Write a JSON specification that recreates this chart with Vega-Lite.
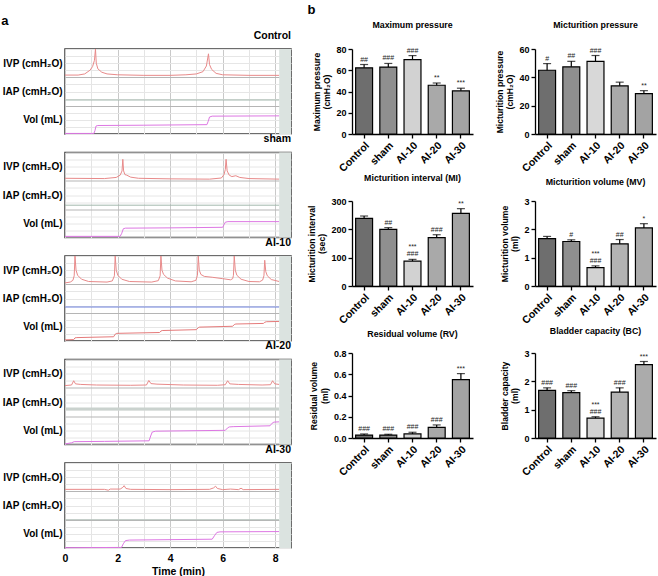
{
"$schema":"https://vega.github.io/schema/vega-lite/v6.json",
"padding":{"left":1,"top":3,"right":3,"bottom":2},
"config":{
 "font":"Liberation Sans",
 "view":{"stroke":null},
 "axis":{"domainColor":"#000","domainWidth":1.3,"tickColor":"#000","tickWidth":1.3,"tickSize":4,"labelColor":"#000","labelFontSize":9,"labelFontWeight":"bold","titleColor":"#000","titleFontSize":8.6,"titleFontWeight":"bold","grid":false,"labelPadding":2,"titlePadding":4,"labelOverlap":false},
 "title":{"fontSize":8.8,"fontWeight":"bold","color":"#000","offset":10}
},
"datasets":{
"traces":[
{"g":"Control","ch":"IVP","t":0,"v":2.08},{"g":"Control","ch":"IVP","t":0.5,"v":2.08},{"g":"Control","ch":"IVP","t":0.75,"v":2.12},{"g":"Control","ch":"IVP","t":0.95,"v":2.25},{"g":"Control","ch":"IVP","t":1.05,"v":2.38},{"g":"Control","ch":"IVP","t":1.12,"v":2.6},{"g":"Control","ch":"IVP","t":1.16,"v":3.0},{"g":"Control","ch":"IVP","t":1.19,"v":2.5},{"g":"Control","ch":"IVP","t":1.25,"v":2.3},{"g":"Control","ch":"IVP","t":1.4,"v":2.18},{"g":"Control","ch":"IVP","t":1.6,"v":2.12},{"g":"Control","ch":"IVP","t":2,"v":2.09},{"g":"Control","ch":"IVP","t":3,"v":2.07},{"g":"Control","ch":"IVP","t":4,"v":2.07},{"g":"Control","ch":"IVP","t":4.6,"v":2.09},{"g":"Control","ch":"IVP","t":5.0,"v":2.12},{"g":"Control","ch":"IVP","t":5.25,"v":2.2},{"g":"Control","ch":"IVP","t":5.38,"v":2.4},{"g":"Control","ch":"IVP","t":5.46,"v":2.83},{"g":"Control","ch":"IVP","t":5.5,"v":2.45},{"g":"Control","ch":"IVP","t":5.58,"v":2.28},{"g":"Control","ch":"IVP","t":5.75,"v":2.14},{"g":"Control","ch":"IVP","t":6,"v":2.09},{"g":"Control","ch":"IVP","t":7,"v":2.07},{"g":"Control","ch":"IVP","t":8.15,"v":2.07},
{"g":"Control","ch":"IAP","t":0,"v":1.2},{"g":"Control","ch":"IAP","t":8.15,"v":1.2},
{"g":"Control","ch":"Vol","t":0,"v":0.02},{"g":"Control","ch":"Vol","t":1.1,"v":0.02},{"g":"Control","ch":"Vol","t":1.14,"v":0.12},{"g":"Control","ch":"Vol","t":1.18,"v":0.28},{"g":"Control","ch":"Vol","t":1.25,"v":0.3},{"g":"Control","ch":"Vol","t":3,"v":0.31},{"g":"Control","ch":"Vol","t":5.4,"v":0.33},{"g":"Control","ch":"Vol","t":5.45,"v":0.45},{"g":"Control","ch":"Vol","t":5.5,"v":0.6},{"g":"Control","ch":"Vol","t":5.6,"v":0.63},{"g":"Control","ch":"Vol","t":8.15,"v":0.64},
{"g":"sham","ch":"IVP","t":0,"v":2.09},{"g":"sham","ch":"IVP","t":1.5,"v":2.08},{"g":"sham","ch":"IVP","t":1.95,"v":2.12},{"g":"sham","ch":"IVP","t":2.1,"v":2.2},{"g":"sham","ch":"IVP","t":2.17,"v":2.35},{"g":"sham","ch":"IVP","t":2.2,"v":2.76},{"g":"sham","ch":"IVP","t":2.23,"v":2.35},{"g":"sham","ch":"IVP","t":2.28,"v":2.22},{"g":"sham","ch":"IVP","t":2.35,"v":2.2},{"g":"sham","ch":"IVP","t":2.5,"v":2.13},{"g":"sham","ch":"IVP","t":2.8,"v":2.09},{"g":"sham","ch":"IVP","t":4,"v":2.07},{"g":"sham","ch":"IVP","t":5.5,"v":2.06},{"g":"sham","ch":"IVP","t":5.95,"v":2.1},{"g":"sham","ch":"IVP","t":6.05,"v":2.22},{"g":"sham","ch":"IVP","t":6.1,"v":2.4},{"g":"sham","ch":"IVP","t":6.13,"v":2.76},{"g":"sham","ch":"IVP","t":6.17,"v":2.35},{"g":"sham","ch":"IVP","t":6.25,"v":2.2},{"g":"sham","ch":"IVP","t":6.35,"v":2.15},{"g":"sham","ch":"IVP","t":6.5,"v":2.18},{"g":"sham","ch":"IVP","t":6.65,"v":2.12},{"g":"sham","ch":"IVP","t":7,"v":2.08},{"g":"sham","ch":"IVP","t":8.15,"v":2.06},
{"g":"sham","ch":"IAP","t":0,"v":1.14},{"g":"sham","ch":"IAP","t":8.15,"v":1.14},
{"g":"sham","ch":"Vol","t":0,"v":0.04},{"g":"sham","ch":"Vol","t":2.1,"v":0.04},{"g":"sham","ch":"Vol","t":2.16,"v":0.15},{"g":"sham","ch":"Vol","t":2.22,"v":0.31},{"g":"sham","ch":"Vol","t":2.3,"v":0.33},{"g":"sham","ch":"Vol","t":4,"v":0.34},{"g":"sham","ch":"Vol","t":6.0,"v":0.36},{"g":"sham","ch":"Vol","t":6.05,"v":0.45},{"g":"sham","ch":"Vol","t":6.1,"v":0.54},{"g":"sham","ch":"Vol","t":6.2,"v":0.56},{"g":"sham","ch":"Vol","t":8.15,"v":0.56},
{"g":"AI-10","ch":"IVP","t":0,"v":2.05},{"g":"AI-10","ch":"IVP","t":0.2,"v":2.08},{"g":"AI-10","ch":"IVP","t":0.3,"v":2.14},{"g":"AI-10","ch":"IVP","t":0.35,"v":2.3},{"g":"AI-10","ch":"IVP","t":0.38,"v":3.0},{"g":"AI-10","ch":"IVP","t":0.42,"v":2.5},{"g":"AI-10","ch":"IVP","t":0.48,"v":2.32},{"g":"AI-10","ch":"IVP","t":0.63,"v":2.18},{"g":"AI-10","ch":"IVP","t":0.9,"v":2.1},{"g":"AI-10","ch":"IVP","t":1.6,"v":2.08},{"g":"AI-10","ch":"IVP","t":1.8,"v":2.12},
{"g":"AI-10","ch":"IVP","t":1.88,"v":2.3},{"g":"AI-10","ch":"IVP","t":1.91,"v":3.0},{"g":"AI-10","ch":"IVP","t":1.95,"v":2.5},{"g":"AI-10","ch":"IVP","t":2.01,"v":2.32},{"g":"AI-10","ch":"IVP","t":2.16,"v":2.18},{"g":"AI-10","ch":"IVP","t":2.45,"v":2.1},{"g":"AI-10","ch":"IVP","t":3.3,"v":2.08},{"g":"AI-10","ch":"IVP","t":3.55,"v":2.13},
{"g":"AI-10","ch":"IVP","t":3.62,"v":2.3},{"g":"AI-10","ch":"IVP","t":3.65,"v":3.0},{"g":"AI-10","ch":"IVP","t":3.69,"v":2.5},{"g":"AI-10","ch":"IVP","t":3.75,"v":2.35},{"g":"AI-10","ch":"IVP","t":3.9,"v":2.22},{"g":"AI-10","ch":"IVP","t":4.2,"v":2.12},{"g":"AI-10","ch":"IVP","t":4.8,"v":2.09},{"g":"AI-10","ch":"IVP","t":4.98,"v":2.14},
{"g":"AI-10","ch":"IVP","t":5.04,"v":2.32},{"g":"AI-10","ch":"IVP","t":5.07,"v":3.0},{"g":"AI-10","ch":"IVP","t":5.11,"v":2.5},{"g":"AI-10","ch":"IVP","t":5.17,"v":2.35},{"g":"AI-10","ch":"IVP","t":5.3,"v":2.28},{"g":"AI-10","ch":"IVP","t":5.6,"v":2.25},{"g":"AI-10","ch":"IVP","t":6.0,"v":2.2},{"g":"AI-10","ch":"IVP","t":6.3,"v":2.16},{"g":"AI-10","ch":"IVP","t":6.38,"v":2.2},
{"g":"AI-10","ch":"IVP","t":6.41,"v":2.32},{"g":"AI-10","ch":"IVP","t":6.44,"v":3.0},{"g":"AI-10","ch":"IVP","t":6.48,"v":2.5},{"g":"AI-10","ch":"IVP","t":6.54,"v":2.32},{"g":"AI-10","ch":"IVP","t":6.7,"v":2.18},{"g":"AI-10","ch":"IVP","t":7.0,"v":2.1},{"g":"AI-10","ch":"IVP","t":7.4,"v":2.09},{"g":"AI-10","ch":"IVP","t":7.52,"v":2.15},
{"g":"AI-10","ch":"IVP","t":7.57,"v":2.3},{"g":"AI-10","ch":"IVP","t":7.6,"v":2.85},{"g":"AI-10","ch":"IVP","t":7.64,"v":2.45},{"g":"AI-10","ch":"IVP","t":7.7,"v":2.3},{"g":"AI-10","ch":"IVP","t":7.85,"v":2.17},{"g":"AI-10","ch":"IVP","t":8.15,"v":2.1},
{"g":"AI-10","ch":"IAP","t":0,"v":1.2},{"g":"AI-10","ch":"IAP","t":8.15,"v":1.2},
{"g":"AI-10","ch":"Vol","t":0,"v":0.04},{"g":"AI-10","ch":"Vol","t":0.33,"v":0.05},{"g":"AI-10","ch":"Vol","t":0.38,"v":0.11},{"g":"AI-10","ch":"Vol","t":0.45,"v":0.12},{"g":"AI-10","ch":"Vol","t":1.85,"v":0.15},{"g":"AI-10","ch":"Vol","t":1.91,"v":0.24},{"g":"AI-10","ch":"Vol","t":1.97,"v":0.27},{"g":"AI-10","ch":"Vol","t":3.6,"v":0.3},{"g":"AI-10","ch":"Vol","t":3.65,"v":0.35},{"g":"AI-10","ch":"Vol","t":3.7,"v":0.37},{"g":"AI-10","ch":"Vol","t":5.0,"v":0.4},{"g":"AI-10","ch":"Vol","t":5.07,"v":0.47},{"g":"AI-10","ch":"Vol","t":5.12,"v":0.49},{"g":"AI-10","ch":"Vol","t":6.38,"v":0.52},{"g":"AI-10","ch":"Vol","t":6.44,"v":0.58},{"g":"AI-10","ch":"Vol","t":6.5,"v":0.6},{"g":"AI-10","ch":"Vol","t":7.55,"v":0.62},{"g":"AI-10","ch":"Vol","t":7.6,"v":0.66},{"g":"AI-10","ch":"Vol","t":7.66,"v":0.68},{"g":"AI-10","ch":"Vol","t":8.15,"v":0.69},
{"g":"AI-20","ch":"IVP","t":0,"v":2.08},{"g":"AI-20","ch":"IVP","t":0.25,"v":2.1},{"g":"AI-20","ch":"IVP","t":0.33,"v":2.25},{"g":"AI-20","ch":"IVP","t":0.4,"v":2.14},{"g":"AI-20","ch":"IVP","t":0.6,"v":2.12},{"g":"AI-20","ch":"IVP","t":1.2,"v":2.1},{"g":"AI-20","ch":"IVP","t":2.5,"v":2.09},{"g":"AI-20","ch":"IVP","t":3.1,"v":2.1},{"g":"AI-20","ch":"IVP","t":3.19,"v":2.26},{"g":"AI-20","ch":"IVP","t":3.27,"v":2.15},{"g":"AI-20","ch":"IVP","t":3.5,"v":2.13},{"g":"AI-20","ch":"IVP","t":4.5,"v":2.1},{"g":"AI-20","ch":"IVP","t":5.8,"v":2.09},{"g":"AI-20","ch":"IVP","t":6.1,"v":2.11},{"g":"AI-20","ch":"IVP","t":6.19,"v":2.25},{"g":"AI-20","ch":"IVP","t":6.27,"v":2.14},{"g":"AI-20","ch":"IVP","t":6.6,"v":2.12},{"g":"AI-20","ch":"IVP","t":7.5,"v":2.1},{"g":"AI-20","ch":"IVP","t":7.82,"v":2.11},{"g":"AI-20","ch":"IVP","t":7.9,"v":2.25},{"g":"AI-20","ch":"IVP","t":7.98,"v":2.14},{"g":"AI-20","ch":"IVP","t":8.15,"v":2.12},
{"g":"AI-20","ch":"IAP","t":0,"v":1.25},{"g":"AI-20","ch":"IAP","t":8.15,"v":1.25},
{"g":"AI-20","ch":"Vol","t":0,"v":0.02},{"g":"AI-20","ch":"Vol","t":0.25,"v":0.06},{"g":"AI-20","ch":"Vol","t":0.35,"v":0.1},{"g":"AI-20","ch":"Vol","t":1.5,"v":0.11},{"g":"AI-20","ch":"Vol","t":3.2,"v":0.13},{"g":"AI-20","ch":"Vol","t":3.26,"v":0.3},{"g":"AI-20","ch":"Vol","t":3.32,"v":0.44},{"g":"AI-20","ch":"Vol","t":3.45,"v":0.47},{"g":"AI-20","ch":"Vol","t":6.1,"v":0.5},{"g":"AI-20","ch":"Vol","t":6.18,"v":0.58},{"g":"AI-20","ch":"Vol","t":6.25,"v":0.62},{"g":"AI-20","ch":"Vol","t":6.4,"v":0.63},{"g":"AI-20","ch":"Vol","t":7.8,"v":0.66},{"g":"AI-20","ch":"Vol","t":7.88,"v":0.75},{"g":"AI-20","ch":"Vol","t":7.95,"v":0.79},{"g":"AI-20","ch":"Vol","t":8.15,"v":0.8},
{"g":"AI-30","ch":"IVP","t":0,"v":2.07},{"g":"AI-30","ch":"IVP","t":1.5,"v":2.07},{"g":"AI-30","ch":"IVP","t":1.65,"v":2.04},{"g":"AI-30","ch":"IVP","t":1.72,"v":2.08},{"g":"AI-30","ch":"IVP","t":2.1,"v":2.08},{"g":"AI-30","ch":"IVP","t":2.2,"v":2.14},{"g":"AI-30","ch":"IVP","t":2.25,"v":2.2},{"g":"AI-30","ch":"IVP","t":2.32,"v":2.1},{"g":"AI-30","ch":"IVP","t":2.5,"v":2.07},{"g":"AI-30","ch":"IVP","t":4.0,"v":2.06},{"g":"AI-30","ch":"IVP","t":5.5,"v":2.07},{"g":"AI-30","ch":"IVP","t":5.65,"v":2.12},{"g":"AI-30","ch":"IVP","t":5.73,"v":2.18},{"g":"AI-30","ch":"IVP","t":5.8,"v":2.1},{"g":"AI-30","ch":"IVP","t":6.0,"v":2.06},{"g":"AI-30","ch":"IVP","t":6.3,"v":2.08},{"g":"AI-30","ch":"IVP","t":6.6,"v":2.06},{"g":"AI-30","ch":"IVP","t":6.7,"v":2.11},{"g":"AI-30","ch":"IVP","t":6.78,"v":2.06},{"g":"AI-30","ch":"IVP","t":8.15,"v":2.07},
{"g":"AI-30","ch":"IAP","t":0,"v":1.0},{"g":"AI-30","ch":"IAP","t":8.15,"v":1.0},
{"g":"AI-30","ch":"Vol","t":0,"v":0.01},{"g":"AI-30","ch":"Vol","t":2.15,"v":0.02},{"g":"AI-30","ch":"Vol","t":2.22,"v":0.15},{"g":"AI-30","ch":"Vol","t":2.3,"v":0.26},{"g":"AI-30","ch":"Vol","t":2.45,"v":0.28},{"g":"AI-30","ch":"Vol","t":5.6,"v":0.31},{"g":"AI-30","ch":"Vol","t":5.7,"v":0.45},{"g":"AI-30","ch":"Vol","t":5.78,"v":0.55},{"g":"AI-30","ch":"Vol","t":5.9,"v":0.57},{"g":"AI-30","ch":"Vol","t":8.15,"v":0.58}
],
"bars":[
{"c":"maxp","g":"Control","m":62.3,"hi":65.4,"a1":"","a2":"##"},{"c":"maxp","g":"sham","m":63,"hi":66.4,"a1":"","a2":"###"},{"c":"maxp","g":"AI-10","m":70,"hi":73.8,"a1":"","a2":"###"},{"c":"maxp","g":"AI-20","m":45.9,"hi":48,"a1":"","a2":"**"},{"c":"maxp","g":"AI-30","m":40.6,"hi":43.1,"a1":"","a2":"***"},
{"c":"mp","g":"Control","m":45,"hi":49.7,"a1":"","a2":"#"},{"c":"mp","g":"sham","m":47.4,"hi":51.3,"a1":"","a2":"##"},{"c":"mp","g":"AI-10","m":51.3,"hi":55.4,"a1":"","a2":"###"},{"c":"mp","g":"AI-20","m":34,"hi":36.6,"a1":"","a2":""},{"c":"mp","g":"AI-30","m":28.5,"hi":30.6,"a1":"","a2":"**"},
{"c":"mi","g":"Control","m":238.8,"hi":247,"a1":"","a2":""},{"c":"mi","g":"sham","m":200,"hi":206,"a1":"","a2":"##"},{"c":"mi","g":"AI-10","m":88,"hi":94,"a1":"***","a2":"###"},{"c":"mi","g":"AI-20","m":170.6,"hi":181,"a1":"","a2":"###"},{"c":"mi","g":"AI-30","m":256.5,"hi":273,"a1":"","a2":"**"},
{"c":"mv","g":"Control","m":1.67,"hi":1.75,"a1":"","a2":""},{"c":"mv","g":"sham","m":1.57,"hi":1.63,"a1":"","a2":"#"},{"c":"mv","g":"AI-10","m":0.65,"hi":0.71,"a1":"***","a2":"###"},{"c":"mv","g":"AI-20","m":1.49,"hi":1.64,"a1":"","a2":"##"},{"c":"mv","g":"AI-30","m":2.05,"hi":2.2,"a1":"","a2":"*"},
{"c":"rv","g":"Control","m":0.028,"hi":0.038,"a1":"","a2":"###"},{"c":"rv","g":"sham","m":0.028,"hi":0.035,"a1":"","a2":"###"},{"c":"rv","g":"AI-10","m":0.038,"hi":0.054,"a1":"","a2":"###"},{"c":"rv","g":"AI-20","m":0.1,"hi":0.123,"a1":"","a2":"###"},{"c":"rv","g":"AI-30","m":0.55,"hi":0.606,"a1":"","a2":"***"},
{"c":"bc","g":"Control","m":1.68,"hi":1.77,"a1":"","a2":"###"},{"c":"bc","g":"sham","m":1.6,"hi":1.67,"a1":"","a2":"###"},{"c":"bc","g":"AI-10","m":0.7,"hi":0.75,"a1":"***","a2":"###"},{"c":"bc","g":"AI-20","m":1.62,"hi":1.77,"a1":"","a2":"###"},{"c":"bc","g":"AI-30","m":2.59,"hi":2.7,"a1":"","a2":"***"}
]
},
"spacing":15,
"resolve":{"scale":{"color":"independent","fill":"independent","x":"independent","y":"independent"}},
"hconcat":[
{
 "title":{"text":"a","anchor":"start","fontSize":13,"offset":2},
 "bounds":"flush",
 "spacing":18.5,
 "resolve":{"scale":{"color":"independent","x":"independent","y":"independent"}},
 "vconcat":[
 {"width":226,"height":85,"view":{"stroke":"#3c3c3c","strokeWidth":1.5},
  "title":{"text":"Control","anchor":"end","fontSize":10.5,"offset":3,"frame":"group"},
  "layer":[
   {"data":{"name":"traces"},"transform":[{"filter":"datum.g==='Control'"}],"mark":{"type":"line","strokeWidth":1},
    "encoding":{
     "x":{"field":"t","type":"quantitative","scale":{"domain":[0,8.6],"nice":false,"zero":false},"axis":{"values":[0,1,2,3,4,5,6,7,8],"grid":true,"gridColor":{"condition":{"test":"datum.value%2===0","value":"#c9c9c9"},"value":"#e4e4e4"},"labels":false,"ticks":false,"domain":false,"title":null}},
     "y":{"field":"v","type":"quantitative","scale":{"domain":[0,3],"nice":false},"axis":{"values":[0,0.25,0.5,0.75,1,1.25,1.5,1.75,2,2.25,2.5,2.75,3],"title":null,"grid":true,"gridColor":{"condition":{"test":"datum.value===1||datum.value===2","value":"#b5b5b5"},"value":"#e6e6e6"},"ticks":false,"domain":false,"labelOverlap":false,"labelFlush":false,"labelFontSize":10,"labelPadding":3,"labelBaseline":"middle","labelExpr":"datum.value===2.5?'IVP (cmH₂O)':datum.value===1.5?'IAP (cmH₂O)':datum.value===0.5?'Vol (mL)':''"}},
     "color":{"field":"ch","type":"nominal","scale":{"domain":["IVP","IAP","Vol"],"range":["#e88a8a","#a3b8ad","#dd77e3"]},"legend":null}
    }},
   {"data":{"values":[{}]},"mark":{"type":"rect","color":"#dbe3e0"},"encoding":{
     "x":{"datum":8.15,"type":"quantitative","scale":{"domain":[0,8.6],"nice":false,"zero":false},"axis":{"values":[0,1,2,3,4,5,6,7,8],"grid":true,"gridColor":{"condition":{"test":"datum.value%2===0","value":"#c9c9c9"},"value":"#e4e4e4"},"labels":false,"ticks":false,"domain":false,"title":null}},"x2":{"datum":8.6},
     "y":{"datum":0,"type":"quantitative","scale":{"domain":[0,3],"nice":false},"axis":{"values":[0,0.25,0.5,0.75,1,1.25,1.5,1.75,2,2.25,2.5,2.75,3],"title":null,"grid":true,"gridColor":{"condition":{"test":"datum.value===1||datum.value===2","value":"#b5b5b5"},"value":"#e6e6e6"},"ticks":false,"domain":false,"labelOverlap":false,"labelFlush":false,"labelFontSize":10,"labelPadding":3,"labelBaseline":"middle","labelExpr":"datum.value===2.5?'IVP (cmH₂O)':datum.value===1.5?'IAP (cmH₂O)':datum.value===0.5?'Vol (mL)':''"}},"y2":{"datum":3}}}
  ]},
 {"width":226,"height":85,"view":{"stroke":"#3c3c3c","strokeWidth":1.5},
  "title":{"text":"sham","anchor":"end","fontSize":10.5,"offset":3,"frame":"group"},
  "layer":[
   {"data":{"name":"traces"},"transform":[{"filter":"datum.g==='sham'"}],"mark":{"type":"line","strokeWidth":1},
    "encoding":{
     "x":{"field":"t","type":"quantitative","scale":{"domain":[0,8.6],"nice":false,"zero":false},"axis":{"values":[0,1,2,3,4,5,6,7,8],"grid":true,"gridColor":{"condition":{"test":"datum.value%2===0","value":"#c9c9c9"},"value":"#e4e4e4"},"labels":false,"ticks":false,"domain":false,"title":null}},
     "y":{"field":"v","type":"quantitative","scale":{"domain":[0,3],"nice":false},"axis":{"values":[0,0.25,0.5,0.75,1,1.25,1.5,1.75,2,2.25,2.5,2.75,3],"title":null,"grid":true,"gridColor":{"condition":{"test":"datum.value===1||datum.value===2","value":"#b5b5b5"},"value":"#e6e6e6"},"ticks":false,"domain":false,"labelOverlap":false,"labelFlush":false,"labelFontSize":10,"labelPadding":3,"labelBaseline":"middle","labelExpr":"datum.value===2.5?'IVP (cmH₂O)':datum.value===1.5?'IAP (cmH₂O)':datum.value===0.5?'Vol (mL)':''"}},
     "color":{"field":"ch","type":"nominal","scale":{"domain":["IVP","IAP","Vol"],"range":["#e88a8a","#a3b8ad","#dd77e3"]},"legend":null}
    }},
   {"data":{"values":[{}]},"mark":{"type":"rect","color":"#dbe3e0"},"encoding":{
     "x":{"datum":8.15,"type":"quantitative","scale":{"domain":[0,8.6],"nice":false,"zero":false},"axis":{"values":[0,1,2,3,4,5,6,7,8],"grid":true,"gridColor":{"condition":{"test":"datum.value%2===0","value":"#c9c9c9"},"value":"#e4e4e4"},"labels":false,"ticks":false,"domain":false,"title":null}},"x2":{"datum":8.6},
     "y":{"datum":0,"type":"quantitative","scale":{"domain":[0,3],"nice":false},"axis":{"values":[0,0.25,0.5,0.75,1,1.25,1.5,1.75,2,2.25,2.5,2.75,3],"title":null,"grid":true,"gridColor":{"condition":{"test":"datum.value===1||datum.value===2","value":"#b5b5b5"},"value":"#e6e6e6"},"ticks":false,"domain":false,"labelOverlap":false,"labelFlush":false,"labelFontSize":10,"labelPadding":3,"labelBaseline":"middle","labelExpr":"datum.value===2.5?'IVP (cmH₂O)':datum.value===1.5?'IAP (cmH₂O)':datum.value===0.5?'Vol (mL)':''"}},"y2":{"datum":3}}}
  ]},
 {"width":226,"height":85,"view":{"stroke":"#3c3c3c","strokeWidth":1.5},
  "title":{"text":"AI-10","anchor":"end","fontSize":10.5,"offset":3,"frame":"group"},
  "layer":[
   {"data":{"name":"traces"},"transform":[{"filter":"datum.g==='AI-10'"}],"mark":{"type":"line","strokeWidth":1},
    "encoding":{
     "x":{"field":"t","type":"quantitative","scale":{"domain":[0,8.6],"nice":false,"zero":false},"axis":{"values":[0,1,2,3,4,5,6,7,8],"grid":true,"gridColor":{"condition":{"test":"datum.value%2===0","value":"#c9c9c9"},"value":"#e4e4e4"},"labels":false,"ticks":false,"domain":false,"title":null}},
     "y":{"field":"v","type":"quantitative","scale":{"domain":[0,3],"nice":false},"axis":{"values":[0,0.25,0.5,0.75,1,1.25,1.5,1.75,2,2.25,2.5,2.75,3],"title":null,"grid":true,"gridColor":{"condition":{"test":"datum.value===1||datum.value===2","value":"#b5b5b5"},"value":"#e6e6e6"},"ticks":false,"domain":false,"labelOverlap":false,"labelFlush":false,"labelFontSize":10,"labelPadding":3,"labelBaseline":"middle","labelExpr":"datum.value===2.5?'IVP (cmH₂O)':datum.value===1.5?'IAP (cmH₂O)':datum.value===0.5?'Vol (mL)':''"}},
     "color":{"field":"ch","type":"nominal","scale":{"domain":["IVP","IAP","Vol"],"range":["#e88a8a","#6d80dc","#e57a7a"]},"legend":null}
    }},
   {"data":{"values":[{}]},"mark":{"type":"rect","color":"#dbe3e0"},"encoding":{
     "x":{"datum":8.15,"type":"quantitative","scale":{"domain":[0,8.6],"nice":false,"zero":false},"axis":{"values":[0,1,2,3,4,5,6,7,8],"grid":true,"gridColor":{"condition":{"test":"datum.value%2===0","value":"#c9c9c9"},"value":"#e4e4e4"},"labels":false,"ticks":false,"domain":false,"title":null}},"x2":{"datum":8.6},
     "y":{"datum":0,"type":"quantitative","scale":{"domain":[0,3],"nice":false},"axis":{"values":[0,0.25,0.5,0.75,1,1.25,1.5,1.75,2,2.25,2.5,2.75,3],"title":null,"grid":true,"gridColor":{"condition":{"test":"datum.value===1||datum.value===2","value":"#b5b5b5"},"value":"#e6e6e6"},"ticks":false,"domain":false,"labelOverlap":false,"labelFlush":false,"labelFontSize":10,"labelPadding":3,"labelBaseline":"middle","labelExpr":"datum.value===2.5?'IVP (cmH₂O)':datum.value===1.5?'IAP (cmH₂O)':datum.value===0.5?'Vol (mL)':''"}},"y2":{"datum":3}}}
  ]},
 {"width":226,"height":85,"view":{"stroke":"#3c3c3c","strokeWidth":1.5},
  "title":{"text":"AI-20","anchor":"end","fontSize":10.5,"offset":3,"frame":"group"},
  "layer":[
   {"data":{"name":"traces"},"transform":[{"filter":"datum.g==='AI-20' && datum.ch==='IAP'"}],"mark":{"type":"line","strokeWidth":3,"color":"#cad2ce"},
    "encoding":{
     "x":{"field":"t","type":"quantitative","scale":{"domain":[0,8.6],"nice":false,"zero":false},"axis":{"values":[0,1,2,3,4,5,6,7,8],"grid":true,"gridColor":{"condition":{"test":"datum.value%2===0","value":"#c9c9c9"},"value":"#e4e4e4"},"labels":false,"ticks":false,"domain":false,"title":null}},
     "y":{"field":"v","type":"quantitative","scale":{"domain":[0,3],"nice":false},"axis":{"values":[0,0.25,0.5,0.75,1,1.25,1.5,1.75,2,2.25,2.5,2.75,3],"title":null,"grid":true,"gridColor":{"condition":{"test":"datum.value===1||datum.value===2","value":"#b5b5b5"},"value":"#e6e6e6"},"ticks":false,"domain":false,"labelOverlap":false,"labelFlush":false,"labelFontSize":10,"labelPadding":3,"labelBaseline":"middle","labelExpr":"datum.value===2.5?'IVP (cmH₂O)':datum.value===1.5?'IAP (cmH₂O)':datum.value===0.5?'Vol (mL)':''"}}
    }},
   {"data":{"name":"traces"},"transform":[{"filter":"datum.g==='AI-20' && datum.ch!=='IAP'"}],"mark":{"type":"line","strokeWidth":1},
    "encoding":{
     "x":{"field":"t","type":"quantitative","scale":{"domain":[0,8.6],"nice":false,"zero":false},"axis":{"values":[0,1,2,3,4,5,6,7,8],"grid":true,"gridColor":{"condition":{"test":"datum.value%2===0","value":"#c9c9c9"},"value":"#e4e4e4"},"labels":false,"ticks":false,"domain":false,"title":null}},
     "y":{"field":"v","type":"quantitative","scale":{"domain":[0,3],"nice":false},"axis":{"values":[0,0.25,0.5,0.75,1,1.25,1.5,1.75,2,2.25,2.5,2.75,3],"title":null,"grid":true,"gridColor":{"condition":{"test":"datum.value===1||datum.value===2","value":"#b5b5b5"},"value":"#e6e6e6"},"ticks":false,"domain":false,"labelOverlap":false,"labelFlush":false,"labelFontSize":10,"labelPadding":3,"labelBaseline":"middle","labelExpr":"datum.value===2.5?'IVP (cmH₂O)':datum.value===1.5?'IAP (cmH₂O)':datum.value===0.5?'Vol (mL)':''"}},
     "color":{"field":"ch","type":"nominal","scale":{"domain":["IVP","Vol"],"range":["#e88a8a","#dd77e3"]},"legend":null}
    }},
   {"data":{"values":[{}]},"mark":{"type":"rect","color":"#dbe3e0"},"encoding":{
     "x":{"datum":8.15,"type":"quantitative","scale":{"domain":[0,8.6],"nice":false,"zero":false},"axis":{"values":[0,1,2,3,4,5,6,7,8],"grid":true,"gridColor":{"condition":{"test":"datum.value%2===0","value":"#c9c9c9"},"value":"#e4e4e4"},"labels":false,"ticks":false,"domain":false,"title":null}},"x2":{"datum":8.6},
     "y":{"datum":0,"type":"quantitative","scale":{"domain":[0,3],"nice":false},"axis":{"values":[0,0.25,0.5,0.75,1,1.25,1.5,1.75,2,2.25,2.5,2.75,3],"title":null,"grid":true,"gridColor":{"condition":{"test":"datum.value===1||datum.value===2","value":"#b5b5b5"},"value":"#e6e6e6"},"ticks":false,"domain":false,"labelOverlap":false,"labelFlush":false,"labelFontSize":10,"labelPadding":3,"labelBaseline":"middle","labelExpr":"datum.value===2.5?'IVP (cmH₂O)':datum.value===1.5?'IAP (cmH₂O)':datum.value===0.5?'Vol (mL)':''"}},"y2":{"datum":3}}}
  ]},
 {"width":226,"height":85,"view":{"stroke":"#3c3c3c","strokeWidth":1.5},
  "title":{"text":"AI-30","anchor":"end","fontSize":10.5,"offset":3,"frame":"group"},
  "layer":[
   {"data":{"name":"traces"},"transform":[{"filter":"datum.g==='AI-30'"}],"mark":{"type":"line","strokeWidth":1},
    "encoding":{
     "x":{"field":"t","type":"quantitative","scale":{"domain":[0,8.6],"nice":false,"zero":false},"axis":{"values":[0,1,2,3,4,5,6,7,8],"grid":true,"gridColor":{"condition":{"test":"datum.value%2===0","value":"#c9c9c9"},"value":"#e4e4e4"},"labelExpr":"datum.value%2===0?datum.label:''","labelOverlap":false,"labelFlush":false,"labelFontSize":10.5,"labelPadding":5,"ticks":false,"domain":false,"title":"Time (min)","titleFontSize":10.5,"titlePadding":3}},
     "y":{"field":"v","type":"quantitative","scale":{"domain":[0,3],"nice":false},"axis":{"values":[0,0.25,0.5,0.75,1,1.25,1.5,1.75,2,2.25,2.5,2.75,3],"title":null,"grid":true,"gridColor":{"condition":{"test":"datum.value===1||datum.value===2","value":"#b5b5b5"},"value":"#e6e6e6"},"ticks":false,"domain":false,"labelOverlap":false,"labelFlush":false,"labelFontSize":10,"labelPadding":3,"labelBaseline":"middle","labelExpr":"datum.value===2.5?'IVP (cmH₂O)':datum.value===1.5?'IAP (cmH₂O)':datum.value===0.5?'Vol (mL)':''"}},
     "color":{"field":"ch","type":"nominal","scale":{"domain":["IVP","IAP","Vol"],"range":["#e88a8a","#b9c5bf","#dd77e3"]},"legend":null}
    }},
   {"data":{"values":[{}]},"mark":{"type":"rect","color":"#dbe3e0"},"encoding":{
     "x":{"datum":8.15,"type":"quantitative","scale":{"domain":[0,8.6],"nice":false,"zero":false},"axis":{"values":[0,1,2,3,4,5,6,7,8],"grid":true,"gridColor":{"condition":{"test":"datum.value%2===0","value":"#c9c9c9"},"value":"#e4e4e4"},"labelExpr":"datum.value%2===0?datum.label:''","labelOverlap":false,"labelFlush":false,"labelFontSize":10.5,"labelPadding":5,"ticks":false,"domain":false,"title":"Time (min)","titleFontSize":10.5,"titlePadding":3}},"x2":{"datum":8.6},
     "y":{"datum":0,"type":"quantitative","scale":{"domain":[0,3],"nice":false},"axis":{"values":[0,0.25,0.5,0.75,1,1.25,1.5,1.75,2,2.25,2.5,2.75,3],"title":null,"grid":true,"gridColor":{"condition":{"test":"datum.value===1||datum.value===2","value":"#b5b5b5"},"value":"#e6e6e6"},"ticks":false,"domain":false,"labelOverlap":false,"labelFlush":false,"labelFontSize":10,"labelPadding":3,"labelBaseline":"middle","labelExpr":"datum.value===2.5?'IVP (cmH₂O)':datum.value===1.5?'IAP (cmH₂O)':datum.value===0.5?'Vol (mL)':''"}},"y2":{"datum":3}}}
  ]}
 ]
},
{
 "title":{"text":"b","anchor":"start","fontSize":13,"offset":4},
 "bounds":"flush",
 "columns":2,
 "spacing":{"row":67,"column":62},
 "resolve":{"scale":{"fill":"independent","x":"independent","y":"independent"}},
 "concat":[
 {"width":121,"height":85,"title":"Maximum pressure","data":{"name":"bars"},"transform":[{"filter":"datum.c==='maxp'"}],
  "encoding":{"x":{"field":"g","type":"nominal","sort":["Control","sham","AI-10","AI-20","AI-30"],"scale":{"paddingInner":0.3,"paddingOuter":0.15},"axis":{"title":null,"labelAngle":-45,"labelFontSize":10.5}}},
  "layer":[
   {"mark":{"type":"bar","stroke":"#000","strokeWidth":1.2},"encoding":{"y":{"field":"m","type":"quantitative","scale":{"domain":[0,80],"nice":false},"axis":{"values":[0,20,40,60,80],"labelOverlap":false,"title":["Maximum pressure","(cmH₂O)"]}},"fill":{"field":"g","type":"nominal","scale":{"domain":["Control","sham","AI-10","AI-20","AI-30"],"range":["#6e6e6e","#8f8f8f","#d2d2d2","#a9a9a9","#a3a3a3"]},"legend":null}}},
   {"mark":{"type":"rule","strokeWidth":1.2,"color":"#000"},"encoding":{"y":{"field":"m","type":"quantitative","scale":{"domain":[0,80],"nice":false},"axis":{"values":[0,20,40,60,80],"labelOverlap":false,"title":["Maximum pressure","(cmH₂O)"]}},"y2":{"field":"hi"}}},
   {"mark":{"type":"tick","thickness":1.2,"size":8,"color":"#000"},"encoding":{"y":{"field":"hi","type":"quantitative","scale":{"domain":[0,80],"nice":false},"axis":{"values":[0,20,40,60,80],"labelOverlap":false,"title":["Maximum pressure","(cmH₂O)"]}}}},
   {"mark":{"type":"text","baseline":"bottom","dy":-2,"fontSize":7,"color":"#222"},"encoding":{"y":{"field":"hi","type":"quantitative","scale":{"domain":[0,80],"nice":false},"axis":{"values":[0,20,40,60,80],"labelOverlap":false,"title":["Maximum pressure","(cmH₂O)"]}},"text":{"field":"a2"}}},
   {"mark":{"type":"text","baseline":"bottom","dy":-9,"fontSize":7,"color":"#222"},"encoding":{"y":{"field":"hi","type":"quantitative","scale":{"domain":[0,80],"nice":false},"axis":{"values":[0,20,40,60,80],"labelOverlap":false,"title":["Maximum pressure","(cmH₂O)"]}},"text":{"field":"a1"}}}
  ]},
 {"width":121,"height":85,"title":"Micturition pressure","data":{"name":"bars"},"transform":[{"filter":"datum.c==='mp'"}],
  "encoding":{"x":{"field":"g","type":"nominal","sort":["Control","sham","AI-10","AI-20","AI-30"],"scale":{"paddingInner":0.3,"paddingOuter":0.15},"axis":{"title":null,"labelAngle":-45,"labelFontSize":10.5}}},
  "layer":[
   {"mark":{"type":"bar","stroke":"#000","strokeWidth":1.2},"encoding":{"y":{"field":"m","type":"quantitative","scale":{"domain":[0,60],"nice":false},"axis":{"values":[0,20,40,60],"labelOverlap":false,"title":["Micturition pressure","(cmH₂O)"]}},"fill":{"field":"g","type":"nominal","scale":{"domain":["Control","sham","AI-10","AI-20","AI-30"],"range":["#6e6e6e","#8f8f8f","#d8d8d8","#a9a9a9","#a3a3a3"]},"legend":null}}},
   {"mark":{"type":"rule","strokeWidth":1.2,"color":"#000"},"encoding":{"y":{"field":"m","type":"quantitative","scale":{"domain":[0,60],"nice":false},"axis":{"values":[0,20,40,60],"labelOverlap":false,"title":["Micturition pressure","(cmH₂O)"]}},"y2":{"field":"hi"}}},
   {"mark":{"type":"tick","thickness":1.2,"size":8,"color":"#000"},"encoding":{"y":{"field":"hi","type":"quantitative","scale":{"domain":[0,60],"nice":false},"axis":{"values":[0,20,40,60],"labelOverlap":false,"title":["Micturition pressure","(cmH₂O)"]}}}},
   {"mark":{"type":"text","baseline":"bottom","dy":-2,"fontSize":7,"color":"#222"},"encoding":{"y":{"field":"hi","type":"quantitative","scale":{"domain":[0,60],"nice":false},"axis":{"values":[0,20,40,60],"labelOverlap":false,"title":["Micturition pressure","(cmH₂O)"]}},"text":{"field":"a2"}}},
   {"mark":{"type":"text","baseline":"bottom","dy":-9,"fontSize":7,"color":"#222"},"encoding":{"y":{"field":"hi","type":"quantitative","scale":{"domain":[0,60],"nice":false},"axis":{"values":[0,20,40,60],"labelOverlap":false,"title":["Micturition pressure","(cmH₂O)"]}},"text":{"field":"a1"}}}
  ]},
 {"width":121,"height":85,"title":"Micturition interval (MI)","data":{"name":"bars"},"transform":[{"filter":"datum.c==='mi'"}],
  "encoding":{"x":{"field":"g","type":"nominal","sort":["Control","sham","AI-10","AI-20","AI-30"],"scale":{"paddingInner":0.3,"paddingOuter":0.15},"axis":{"title":null,"labelAngle":-45,"labelFontSize":10.5}}},
  "layer":[
   {"mark":{"type":"bar","stroke":"#000","strokeWidth":1.2},"encoding":{"y":{"field":"m","type":"quantitative","scale":{"domain":[0,300],"nice":false},"axis":{"values":[0,100,200,300],"labelOverlap":false,"title":["Micturition interval","(sec)"]}},"fill":{"field":"g","type":"nominal","scale":{"domain":["Control","sham","AI-10","AI-20","AI-30"],"range":["#6e6e6e","#8f8f8f","#d2d2d2","#a9a9a9","#a3a3a3"]},"legend":null}}},
   {"mark":{"type":"rule","strokeWidth":1.2,"color":"#000"},"encoding":{"y":{"field":"m","type":"quantitative","scale":{"domain":[0,300],"nice":false},"axis":{"values":[0,100,200,300],"labelOverlap":false,"title":["Micturition interval","(sec)"]}},"y2":{"field":"hi"}}},
   {"mark":{"type":"tick","thickness":1.2,"size":8,"color":"#000"},"encoding":{"y":{"field":"hi","type":"quantitative","scale":{"domain":[0,300],"nice":false},"axis":{"values":[0,100,200,300],"labelOverlap":false,"title":["Micturition interval","(sec)"]}}}},
   {"mark":{"type":"text","baseline":"bottom","dy":-2,"fontSize":7,"color":"#222"},"encoding":{"y":{"field":"hi","type":"quantitative","scale":{"domain":[0,300],"nice":false},"axis":{"values":[0,100,200,300],"labelOverlap":false,"title":["Micturition interval","(sec)"]}},"text":{"field":"a2"}}},
   {"mark":{"type":"text","baseline":"bottom","dy":-9,"fontSize":7,"color":"#222"},"encoding":{"y":{"field":"hi","type":"quantitative","scale":{"domain":[0,300],"nice":false},"axis":{"values":[0,100,200,300],"labelOverlap":false,"title":["Micturition interval","(sec)"]}},"text":{"field":"a1"}}}
  ]},
 {"width":121,"height":85,"title":"Micturition volume (MV)","data":{"name":"bars"},"transform":[{"filter":"datum.c==='mv'"}],
  "encoding":{"x":{"field":"g","type":"nominal","sort":["Control","sham","AI-10","AI-20","AI-30"],"scale":{"paddingInner":0.3,"paddingOuter":0.15},"axis":{"title":null,"labelAngle":-45,"labelFontSize":10.5}}},
  "layer":[
   {"mark":{"type":"bar","stroke":"#000","strokeWidth":1.2},"encoding":{"y":{"field":"m","type":"quantitative","scale":{"domain":[0,3],"nice":false},"axis":{"values":[0,1,2,3],"labelOverlap":false,"title":["Micturition volume","(ml)"]}},"fill":{"field":"g","type":"nominal","scale":{"domain":["Control","sham","AI-10","AI-20","AI-30"],"range":["#6e6e6e","#8f8f8f","#d2d2d2","#b3b3b3","#ababab"]},"legend":null}}},
   {"mark":{"type":"rule","strokeWidth":1.2,"color":"#000"},"encoding":{"y":{"field":"m","type":"quantitative","scale":{"domain":[0,3],"nice":false},"axis":{"values":[0,1,2,3],"labelOverlap":false,"title":["Micturition volume","(ml)"]}},"y2":{"field":"hi"}}},
   {"mark":{"type":"tick","thickness":1.2,"size":8,"color":"#000"},"encoding":{"y":{"field":"hi","type":"quantitative","scale":{"domain":[0,3],"nice":false},"axis":{"values":[0,1,2,3],"labelOverlap":false,"title":["Micturition volume","(ml)"]}}}},
   {"mark":{"type":"text","baseline":"bottom","dy":-2,"fontSize":7,"color":"#222"},"encoding":{"y":{"field":"hi","type":"quantitative","scale":{"domain":[0,3],"nice":false},"axis":{"values":[0,1,2,3],"labelOverlap":false,"title":["Micturition volume","(ml)"]}},"text":{"field":"a2"}}},
   {"mark":{"type":"text","baseline":"bottom","dy":-9,"fontSize":7,"color":"#222"},"encoding":{"y":{"field":"hi","type":"quantitative","scale":{"domain":[0,3],"nice":false},"axis":{"values":[0,1,2,3],"labelOverlap":false,"title":["Micturition volume","(ml)"]}},"text":{"field":"a1"}}}
  ]},
 {"width":121,"height":85,"title":"Residual volume (RV)","data":{"name":"bars"},"transform":[{"filter":"datum.c==='rv'"}],
  "encoding":{"x":{"field":"g","type":"nominal","sort":["Control","sham","AI-10","AI-20","AI-30"],"scale":{"paddingInner":0.3,"paddingOuter":0.15},"axis":{"title":null,"labelAngle":-45,"labelFontSize":10.5}}},
  "layer":[
   {"mark":{"type":"bar","stroke":"#000","strokeWidth":1.2},"encoding":{"y":{"field":"m","type":"quantitative","scale":{"domain":[0,0.8],"nice":false},"axis":{"values":[0,0.2,0.4,0.6,0.8],"format":".1f","labelOverlap":false,"title":["Residual volume","(ml)"]}},"fill":{"field":"g","type":"nominal","scale":{"domain":["Control","sham","AI-10","AI-20","AI-30"],"range":["#6e6e6e","#8f8f8f","#d2d2d2","#a9a9a9","#a3a3a3"]},"legend":null}}},
   {"mark":{"type":"rule","strokeWidth":1.2,"color":"#000"},"encoding":{"y":{"field":"m","type":"quantitative","scale":{"domain":[0,0.8],"nice":false},"axis":{"values":[0,0.2,0.4,0.6,0.8],"format":".1f","labelOverlap":false,"title":["Residual volume","(ml)"]}},"y2":{"field":"hi"}}},
   {"mark":{"type":"tick","thickness":1.2,"size":8,"color":"#000"},"encoding":{"y":{"field":"hi","type":"quantitative","scale":{"domain":[0,0.8],"nice":false},"axis":{"values":[0,0.2,0.4,0.6,0.8],"format":".1f","labelOverlap":false,"title":["Residual volume","(ml)"]}}}},
   {"mark":{"type":"text","baseline":"bottom","dy":-2,"fontSize":7,"color":"#222"},"encoding":{"y":{"field":"hi","type":"quantitative","scale":{"domain":[0,0.8],"nice":false},"axis":{"values":[0,0.2,0.4,0.6,0.8],"format":".1f","labelOverlap":false,"title":["Residual volume","(ml)"]}},"text":{"field":"a2"}}},
   {"mark":{"type":"text","baseline":"bottom","dy":-9,"fontSize":7,"color":"#222"},"encoding":{"y":{"field":"hi","type":"quantitative","scale":{"domain":[0,0.8],"nice":false},"axis":{"values":[0,0.2,0.4,0.6,0.8],"format":".1f","labelOverlap":false,"title":["Residual volume","(ml)"]}},"text":{"field":"a1"}}}
  ]},
 {"width":121,"height":85,"title":"Bladder capacity (BC)","data":{"name":"bars"},"transform":[{"filter":"datum.c==='bc'"}],
  "encoding":{"x":{"field":"g","type":"nominal","sort":["Control","sham","AI-10","AI-20","AI-30"],"scale":{"paddingInner":0.3,"paddingOuter":0.15},"axis":{"title":null,"labelAngle":-45,"labelFontSize":10.5}}},
  "layer":[
   {"mark":{"type":"bar","stroke":"#000","strokeWidth":1.2},"encoding":{"y":{"field":"m","type":"quantitative","scale":{"domain":[0,3],"nice":false},"axis":{"values":[0,1,2,3],"labelOverlap":false,"title":["Bladder capacity","(ml)"]}},"fill":{"field":"g","type":"nominal","scale":{"domain":["Control","sham","AI-10","AI-20","AI-30"],"range":["#6e6e6e","#8f8f8f","#d2d2d2","#b3b3b3","#ababab"]},"legend":null}}},
   {"mark":{"type":"rule","strokeWidth":1.2,"color":"#000"},"encoding":{"y":{"field":"m","type":"quantitative","scale":{"domain":[0,3],"nice":false},"axis":{"values":[0,1,2,3],"labelOverlap":false,"title":["Bladder capacity","(ml)"]}},"y2":{"field":"hi"}}},
   {"mark":{"type":"tick","thickness":1.2,"size":8,"color":"#000"},"encoding":{"y":{"field":"hi","type":"quantitative","scale":{"domain":[0,3],"nice":false},"axis":{"values":[0,1,2,3],"labelOverlap":false,"title":["Bladder capacity","(ml)"]}}}},
   {"mark":{"type":"text","baseline":"bottom","dy":-2,"fontSize":7,"color":"#222"},"encoding":{"y":{"field":"hi","type":"quantitative","scale":{"domain":[0,3],"nice":false},"axis":{"values":[0,1,2,3],"labelOverlap":false,"title":["Bladder capacity","(ml)"]}},"text":{"field":"a2"}}},
   {"mark":{"type":"text","baseline":"bottom","dy":-9,"fontSize":7,"color":"#222"},"encoding":{"y":{"field":"hi","type":"quantitative","scale":{"domain":[0,3],"nice":false},"axis":{"values":[0,1,2,3],"labelOverlap":false,"title":["Bladder capacity","(ml)"]}},"text":{"field":"a1"}}}
  ]}
 ]
}
]
}
